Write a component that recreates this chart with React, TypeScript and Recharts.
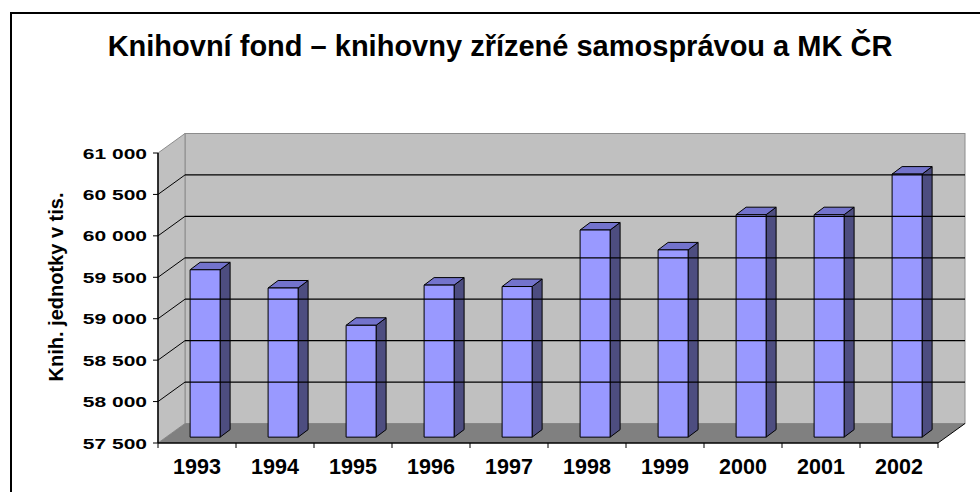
import React from 'react';
import { BarChart, Bar, XAxis, YAxis, ReferenceArea, ReferenceLine } from 'recharts';

// Knihovní fond v tis. knihovních jednotek, 1993–2002
const years = ['1993', '1994', '1995', '1996', '1997', '1998', '1999', '2000', '2001', '2002'];
const bookFund = [59520, 59300, 58850, 59335, 59318, 60000, 59760, 60185, 60185, 60675];
const yTicks = [57500, 58000, 58500, 59000, 59500, 60000, 60500, 61000];
const gridValues = [58000, 58500, 59000, 59500, 60000, 60500];

const data = years.map((year, i) => ({ year, value: bookFund[i] }));

const FONT = '"Liberation Sans", Arial, Helvetica, sans-serif';
// hloubka 3D grafu (posun zadní stěny)
const DEPTH_X = 27;
const DEPTH_Y = 19.5;
const BAR_SHIFT = 0.3;
const BAR_DX = 10;
const BAR_DY = 7.5;

const formatThousands = (v: number) =>
  `${Math.floor(v / 1000)} ${String(v % 1000).padStart(3, '0')}`;

const Walls = (props: any) => {
  const { x, y, width, height } = props;
  const b = y + height;
  return (
    <g>
      <rect x={x + DEPTH_X} y={y - DEPTH_Y} width={width} height={height} fill="#c0c0c0" stroke="#8c8c8c" />
      <polygon
        points={`${x},${y} ${x + DEPTH_X},${y - DEPTH_Y} ${x + DEPTH_X},${b - DEPTH_Y} ${x},${b}`}
        fill="#c0c0c0"
        stroke="#8c8c8c"
      />
      <polygon
        points={`${x},${b} ${x + width},${b} ${x + width + DEPTH_X},${b - DEPTH_Y} ${x + DEPTH_X},${b - DEPTH_Y}`}
        fill="#808080"
      />
      <line x1={x + width} y1={b} x2={x + width + DEPTH_X} y2={b - DEPTH_Y} stroke="#000" />
    </g>
  );
};

// čára mřížky: šikmo po boční stěně a vodorovně po zadní stěně
const GridLine3D = (p: any) => (
  <g>
    <line x1={p.x1} y1={p.y1} x2={p.x1 + DEPTH_X} y2={p.y1 - DEPTH_Y} stroke="#000" strokeWidth={1} />
    <line x1={p.x1 + DEPTH_X} y1={p.y1 - DEPTH_Y} x2={p.x2 + DEPTH_X} y2={p.y2 - DEPTH_Y} stroke="#000" strokeWidth={1.3} />
  </g>
);

const Bar3D = (props: any) => {
  const { x, y, width, height } = props;
  if (height == null || width == null) return null;
  const fx = x + DEPTH_X * BAR_SHIFT;
  const fy = y - DEPTH_Y * BAR_SHIFT;
  const r = fx + width;
  const b = fy + height;
  return (
    <g stroke="#000" strokeWidth={1} strokeLinejoin="round">
      <polygon points={`${r},${fy} ${r + BAR_DX},${fy - BAR_DY} ${r + BAR_DX},${b - BAR_DY} ${r},${b}`} fill="#4d4d80" />
      <polygon points={`${fx},${fy} ${fx + BAR_DX},${fy - BAR_DY} ${r + BAR_DX},${fy - BAR_DY} ${r},${fy}`} fill="#7373cc" />
      <rect x={fx} y={fy} width={width} height={height} fill="#9999ff" />
    </g>
  );
};

const XTick = (props: any) => {
  const { x, y, payload, index } = props;
  const half = payload.offset || 39;
  return (
    <g>
      {index === 0 && <line x1={x - half} y1={y} x2={x - half} y2={y + 5} stroke="#000" />}
      <line x1={x + half} y1={y} x2={x + half} y2={y + 5} stroke="#000" />
      <text x={x} y={y + 31} textAnchor="middle" fontFamily={FONT} fontWeight="bold" fontSize={21.5} fill="#000">
        {payload.value}
      </text>
    </g>
  );
};

const YTick = (props: any) => {
  const { x, y, payload } = props;
  return (
    <g transform={`translate(${x} ${y}) scale(1 0.73)`}>
      <text x={0} y={0} dy="0.36em" textAnchor="end" fontFamily={FONT} fontWeight="bold" fontSize={21} fill="#000">
        {formatThousands(payload.value)}
      </text>
    </g>
  );
};

export default function App() {
  return (
    <div style={{ position: 'absolute', left: 0, top: 0, width: 980, height: 492, overflow: 'hidden', background: '#fff' }}>
      <div
        style={{
          position: 'absolute',
          left: 10,
          top: 12,
          width: 1000,
          height: 520,
          border: '2px solid #000',
          boxSizing: 'border-box',
        }}
      />
      <div
        style={{
          position: 'absolute',
          left: 0,
          top: 31.5,
          width: 1000,
          textAlign: 'center',
          fontFamily: FONT,
          fontWeight: 'bold',
          fontSize: 29,
          lineHeight: '29px',
          whiteSpace: 'nowrap',
        }}
      >
        Knihovní fond – knihovny zřízené samosprávou a MK ČR
      </div>
      <svg width={980} height={492} style={{ position: 'absolute', left: 0, top: 0 }}>
        <text
          x={63}
          y={287}
          transform="rotate(-90 63 287)"
          textAnchor="middle"
          fontFamily={FONT}
          fontWeight="bold"
          fontSize={20}
          fill="#000"
        >
          Knih. jednotky v tis.
        </text>
      </svg>
      <div style={{ position: 'absolute', left: 0, top: 0 }}>
        <BarChart width={980} height={492} data={data} margin={{ top: 153, right: 42, bottom: 0, left: 0 }}>
          <ReferenceArea y1={57500} y2={61000} shape={Walls} ifOverflow="visible" />
          {gridValues.map((v) => (
            <ReferenceLine key={v} y={v} shape={GridLine3D} ifOverflow="visible" />
          ))}
          <XAxis
            dataKey="year"
            height={49}
            axisLine={{ stroke: '#000', strokeWidth: 1.5 }}
            tickLine={false}
            tickSize={0}
            tickMargin={0}
            tick={XTick}
            interval={0}
          />
          <YAxis
            width={158}
            domain={[57500, 61000]}
            ticks={yTicks}
            allowDataOverflow
            interval={0}
            axisLine={{ stroke: '#000', strokeWidth: 1.5 }}
            tickLine={{ stroke: '#000' }}
            tickSize={5}
            tickMargin={6}
            tick={YTick}
          />
          <Bar dataKey="value" barSize={30} shape={Bar3D} isAnimationActive={false} />
        </BarChart>
      </div>
    </div>
  );
}
